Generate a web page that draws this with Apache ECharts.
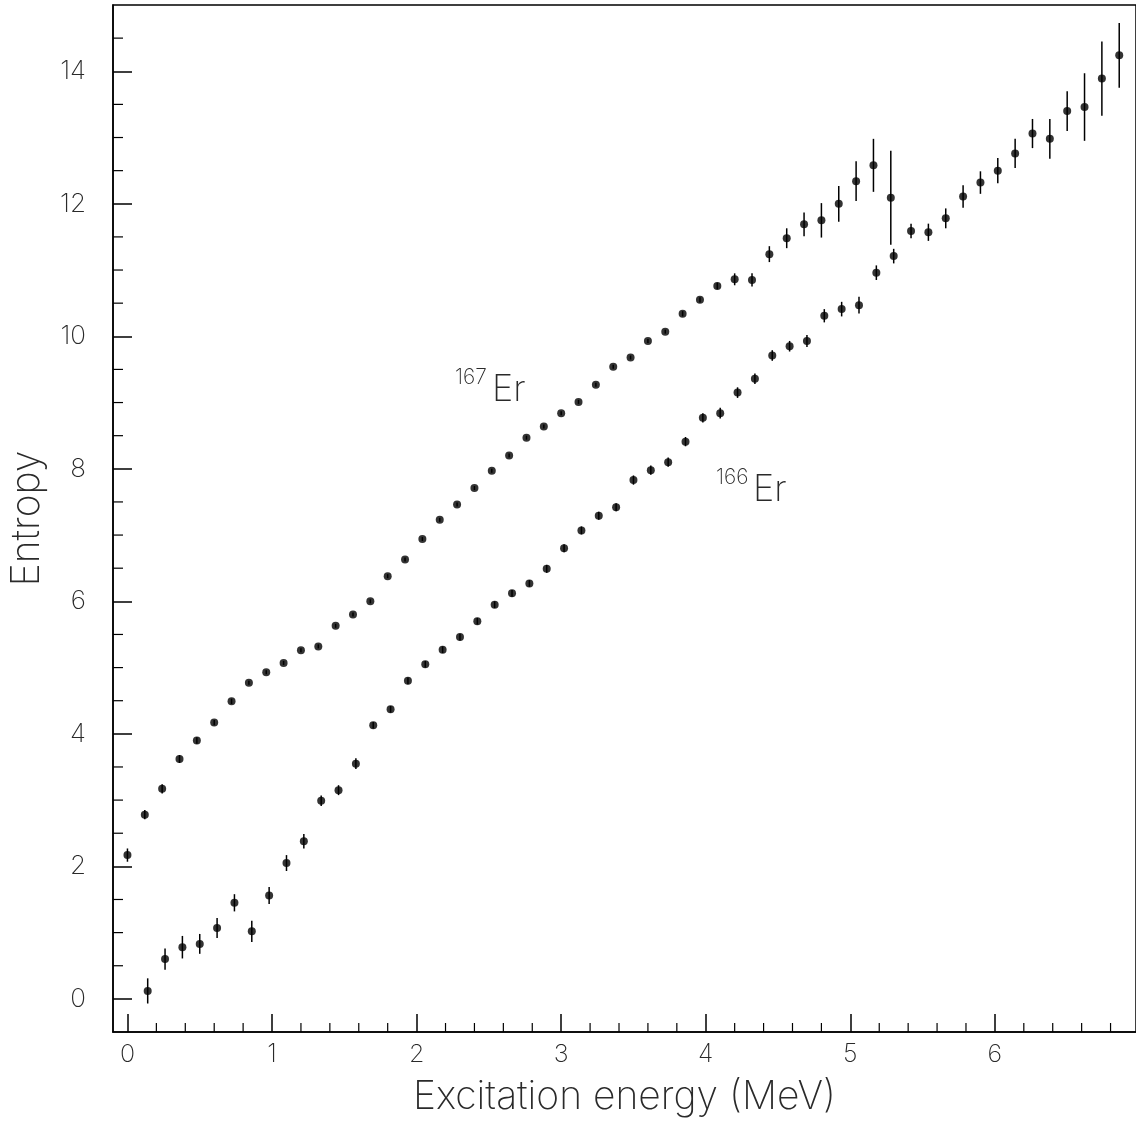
<!DOCTYPE html>
<html>
<head>
<meta charset="utf-8">
<title>Entropy of 166Er and 167Er</title>
<script src="https://cdn.jsdelivr.net/npm/echarts@6/dist/echarts.min.js"></script>
<style>
  html, body { margin: 0; padding: 0; background: #fff; }
  #chart { width: 1136px; height: 1128px; }
</style>
</head>
<body>
<div id="chart"></div>
<script>
// Excitation energy (MeV), entropy and its uncertainty for 167Er
const er167X = [0.00, 0.12, 0.24, 0.36, 0.48, 0.60, 0.72, 0.84, 0.96, 1.08,
  1.20, 1.32, 1.44, 1.56, 1.68, 1.80, 1.92, 2.04, 2.16, 2.28,
  2.40, 2.52, 2.64, 2.76, 2.88, 3.00, 3.12, 3.24, 3.36, 3.48,
  3.60, 3.72, 3.84, 3.96, 4.08, 4.20, 4.32, 4.44, 4.56, 4.68,
  4.80, 4.92, 5.04, 5.16, 5.28];
const er167S = [2.17, 2.78, 3.17, 3.62, 3.90, 4.17, 4.49, 4.77, 4.93, 5.07,
  5.26, 5.32, 5.63, 5.80, 6.00, 6.38, 6.63, 6.94, 7.23, 7.46,
  7.71, 7.97, 8.20, 8.47, 8.64, 8.84, 9.01, 9.27, 9.54, 9.68,
  9.93, 10.07, 10.34, 10.55, 10.76, 10.86, 10.85, 11.24, 11.48, 11.69,
  11.75, 12.00, 12.34, 12.58, 12.09];
const er167Err = [0.10, 0.07, 0.07, 0.06, 0.05, 0.04, 0.04, 0.03, 0.03, 0.03,
  0.03, 0.03, 0.03, 0.03, 0.03, 0.03, 0.03, 0.03, 0.03, 0.03,
  0.03, 0.03, 0.03, 0.03, 0.03, 0.03, 0.03, 0.03, 0.03, 0.03,
  0.03, 0.03, 0.04, 0.04, 0.05, 0.09, 0.10, 0.12, 0.15, 0.18,
  0.26, 0.27, 0.30, 0.40, 0.71];

// Excitation energy (MeV), entropy and its uncertainty for 166Er
const er166X = [0.14, 0.26, 0.38, 0.50, 0.62, 0.74, 0.86, 0.98, 1.10, 1.22,
  1.34, 1.46, 1.58, 1.70, 1.82, 1.94, 2.06, 2.18, 2.30, 2.42,
  2.54, 2.66, 2.78, 2.90, 3.02, 3.14, 3.26, 3.38, 3.50, 3.62,
  3.74, 3.86, 3.98, 4.10, 4.22, 4.34, 4.46, 4.58, 4.70, 4.82,
  4.94, 5.06, 5.18, 5.30, 5.42, 5.54, 5.66, 5.78, 5.90, 6.02,
  6.14, 6.26, 6.38, 6.50, 6.62, 6.74, 6.86];
const er166S = [0.12, 0.60, 0.78, 0.83, 1.07, 1.45, 1.02, 1.56, 2.05, 2.38,
  2.99, 3.15, 3.55, 4.13, 4.37, 4.80, 5.05, 5.27, 5.46, 5.70,
  5.95, 6.12, 6.27, 6.49, 6.80, 7.07, 7.29, 7.42, 7.83, 7.98,
  8.10, 8.41, 8.77, 8.84, 9.15, 9.36, 9.71, 9.85, 9.93, 10.31,
  10.41, 10.47, 10.96, 11.21, 11.59, 11.57, 11.78, 12.11, 12.32, 12.50,
  12.76, 13.06, 12.98, 13.40, 13.46, 13.89, 14.24];
const er166Err = [0.19, 0.16, 0.17, 0.15, 0.15, 0.13, 0.16, 0.13, 0.12, 0.11,
  0.08, 0.075, 0.08, 0.05, 0.05, 0.05, 0.05, 0.05, 0.05, 0.05,
  0.05, 0.05, 0.05, 0.06, 0.06, 0.06, 0.06, 0.06, 0.07, 0.07,
  0.07, 0.07, 0.07, 0.08, 0.08, 0.08, 0.08, 0.08, 0.09, 0.10,
  0.11, 0.125, 0.11, 0.11, 0.11, 0.13, 0.15, 0.17, 0.17, 0.19,
  0.22, 0.22, 0.30, 0.30, 0.51, 0.56, 0.49];

// Axis ranges and minor tick positions
const xRange = [-0.1, 6.976];
const yRange = [-0.5, 15];
const xMinorTicks = [0.2, 0.4, 0.6, 0.8, 1.2, 1.4, 1.6, 1.8, 2.2, 2.4, 2.6, 2.8,
  3.2, 3.4, 3.6, 3.8, 4.2, 4.4, 4.6, 4.8, 5.2, 5.4, 5.6, 5.8, 6.2, 6.4, 6.6, 6.8];
const yMinorTicks = [0.5, 1, 1.5, 2.5, 3, 3.5, 4.5, 5, 5.5, 6.5, 7, 7.5, 8.5, 9, 9.5,
  10.5, 11, 11.5, 12.5, 13, 13.5, 14.5];

const FONT = 'Inter';
const INK = '#000';
const TEXT = '#2a2a2a';

function zip3(xs, ys, es) {
  return xs.map((x, i) => [x, ys[i], es[i]]);
}

function errorBarItem(params, api) {
  const x = api.value(0), y = api.value(1), e = api.value(2);
  const lo = api.coord([x, y - e]);
  const hi = api.coord([x, y + e]);
  return {
    type: 'line',
    shape: { x1: lo[0], y1: lo[1], x2: hi[0], y2: hi[1] },
    style: { stroke: INK, lineWidth: 1.5 }
  };
}

function xMinorTickItem(params, api) {
  const p = api.coord([api.value(0), yRange[0]]);
  return {
    type: 'line',
    shape: { x1: p[0], y1: p[1], x2: p[0], y2: p[1] - 9 },
    style: { stroke: INK, lineWidth: 1.2 }
  };
}

function yMinorTickItem(params, api) {
  const p = api.coord([xRange[0], api.value(1)]);
  return {
    type: 'line',
    shape: { x1: p[0], y1: p[1], x2: p[0] + 10, y2: p[1] },
    style: { stroke: INK, lineWidth: 1.2 }
  };
}

const chart = echarts.init(document.getElementById('chart'), null, { renderer: 'canvas' });

chart.setOption({
  animation: false,
  backgroundColor: '#fff',
  grid: {
    left: 113, top: 5, right: -3, bottom: 96,
    show: true, borderColor: INK, borderWidth: 1.5, backgroundColor: 'transparent'
  },
  xAxis: {
    type: 'value',
    min: xRange[0], max: xRange[1],
    splitNumber: 7,
    name: 'Excitation energy (MeV)',
    nameLocation: 'middle',
    nameGap: 46,
    nameTextStyle: { fontFamily: FONT, fontSize: 39, fontWeight: 200, color: TEXT },
    axisLine: { show: true, onZero: false, lineStyle: { color: INK, width: 1.5 } },
    axisTick: { show: true, inside: true, length: 18, lineStyle: { color: INK, width: 1.5 } },
    axisLabel: {
      show: true, margin: 10, showMinLabel: false, showMaxLabel: false,
      fontFamily: FONT, fontSize: 25, fontWeight: 200, color: TEXT
    },
    splitLine: { show: false }
  },
  yAxis: {
    type: 'value',
    min: yRange[0], max: yRange[1],
    splitNumber: 8,
    name: 'Entropy',
    nameLocation: 'middle',
    nameGap: 66,
    nameTextStyle: { fontFamily: FONT, fontSize: 39, fontWeight: 200, color: TEXT },
    axisLine: { show: true, onZero: false, lineStyle: { color: INK, width: 1.5 } },
    axisTick: { show: true, inside: true, length: 19, lineStyle: { color: INK, width: 1.5 } },
    axisLabel: {
      show: true, margin: 27, showMinLabel: false, showMaxLabel: false,
      fontFamily: FONT, fontSize: 26, fontWeight: 200, color: TEXT
    },
    splitLine: { show: false }
  },
  series: [
    {
      name: 'x minor ticks', type: 'custom', silent: true, clip: false,
      data: xMinorTicks.map(v => [v, yRange[0]]),
      renderItem: xMinorTickItem
    },
    {
      name: 'y minor ticks', type: 'custom', silent: true, clip: false,
      data: yMinorTicks.map(v => [xRange[0], v]),
      renderItem: yMinorTickItem
    },
    {
      name: '167Er errors', type: 'custom', silent: true,
      data: zip3(er167X, er167S, er167Err),
      renderItem: errorBarItem
    },
    {
      name: '166Er errors', type: 'custom', silent: true,
      data: zip3(er166X, er166S, er166Err),
      renderItem: errorBarItem
    },
    {
      name: '167Er', type: 'scatter', symbol: 'circle', symbolSize: 8,
      itemStyle: { color: INK },
      data: er167X.map((x, i) => [x, er167S[i]])
    },
    {
      name: '166Er', type: 'scatter', symbol: 'circle', symbolSize: 8,
      itemStyle: { color: INK },
      data: er166X.map((x, i) => [x, er166S[i]])
    }
  ],
  graphic: [
    { type: 'text', left: 455, top: 367, style: { text: '167', font: '200 21px Inter', fill: TEXT } },
    { type: 'text', left: 492, top: 372, style: { text: 'Er', font: '200 36px Inter', fill: TEXT } },
    { type: 'text', left: 716, top: 467, style: { text: '166', font: '200 21px Inter', fill: TEXT } },
    { type: 'text', left: 753, top: 472, style: { text: 'Er', font: '200 36px Inter', fill: TEXT } }
  ]
});
</script>
</body>
</html>
